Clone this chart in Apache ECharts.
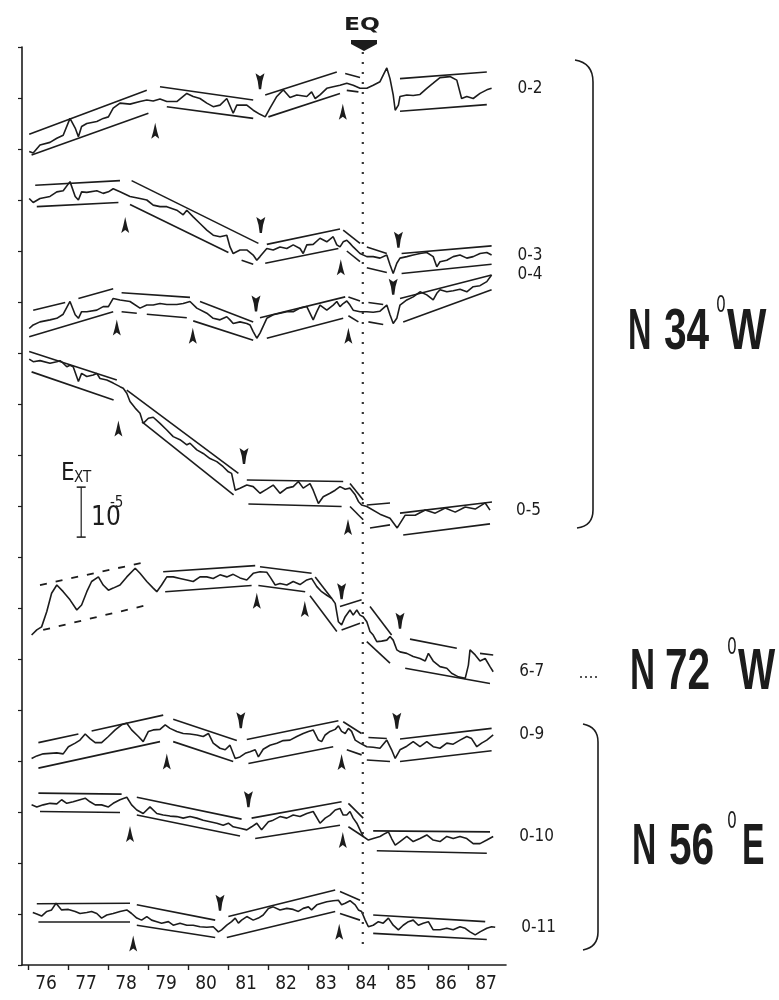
<!DOCTYPE html>
<html>
<head>
<meta charset="utf-8">
<script src="https://cdn.jsdelivr.net/npm/echarts@6/dist/echarts.min.js"></script>
<style>
html,body{margin:0;padding:0;background:#fff}
#main{width:779px;height:1000px}
</style>
</head>
<body>
<div id="main"></div>
<script>
// strain records, year vs. offset strain (unit = 10^-5)
var trace02 = [[76.03,15.95],[76.13,15.92],[76.30,16.08],[76.55,16.13],[76.72,16.21],[76.88,16.27],[77.05,16.60],[77.18,16.41],[77.26,16.24],[77.34,16.44],[77.47,16.50],[77.72,16.54],[77.88,16.60],[78.01,16.63],[78.13,16.80],[78.30,16.90],[78.55,16.88],[78.80,16.93],[78.97,16.96],[79.13,16.94],[79.30,16.98],[79.47,16.93],[79.72,16.93],[79.97,17.09],[80.13,17.03],[80.30,16.99],[80.47,16.90],[80.63,16.83],[80.80,16.86],[80.97,16.99],[81.13,16.70],[81.22,16.86],[81.47,16.86],[81.63,16.76],[81.80,16.68],[81.93,16.63],[82.05,16.80],[82.22,17.03],[82.38,17.16],[82.55,17.01],[82.72,17.06],[82.97,17.03],[83.09,17.12],[83.18,16.99],[83.30,17.06],[83.47,17.19],[83.63,17.22],[83.80,17.25],[83.97,17.29],[84.13,17.25],[84.30,17.19],[84.47,17.19],[84.63,17.25],[84.80,17.32],[84.88,17.45],[84.97,17.59],[85.05,17.38],[85.13,17.06],[85.18,16.76],[85.26,16.86],[85.30,17.03],[85.47,17.06],[85.63,17.05],[85.80,17.07],[85.97,17.19],[86.13,17.29],[86.30,17.40],[86.55,17.42],[86.72,17.35],[86.84,16.99],[86.97,17.03],[87.13,16.99],[87.30,17.09],[87.47,17.16],[87.59,17.19]];
var trace03 = [[76.03,15.03],[76.13,14.95],[76.30,15.03],[76.55,15.07],[76.72,15.16],[76.88,15.18],[77.05,15.36],[77.18,15.07],[77.26,15.00],[77.34,15.16],[77.47,15.15],[77.72,15.18],[77.88,15.13],[78.01,15.16],[78.13,15.22],[78.30,15.16],[78.55,15.07],[78.80,15.03],[78.97,15.00],[79.13,14.90],[79.30,14.87],[79.47,14.87],[79.72,14.80],[79.88,14.71],[79.97,14.80],[80.13,14.67],[80.30,14.54],[80.47,14.41],[80.63,14.31],[80.80,14.28],[80.97,14.31],[81.05,14.08],[81.13,13.95],[81.30,14.02],[81.47,14.02],[81.63,13.92],[81.72,13.82],[81.80,13.89],[81.97,14.05],[82.13,14.02],[82.30,14.08],[82.47,14.05],[82.63,14.12],[82.80,14.05],[82.88,13.95],[82.97,14.12],[83.13,14.13],[83.30,14.25],[83.47,14.18],[83.63,14.28],[83.72,14.12],[83.80,14.08],[83.88,14.18],[83.97,14.21],[84.05,14.15],[84.13,14.08],[84.30,13.95],[84.47,13.89],[84.63,13.89],[84.80,13.86],[84.97,13.92],[85.05,13.73],[85.13,13.56],[85.22,13.76],[85.30,13.86],[85.47,13.89],[85.63,13.92],[85.80,13.95],[85.97,13.97],[86.13,13.89],[86.22,13.69],[86.30,13.79],[86.47,13.82],[86.63,13.89],[86.80,13.92],[86.97,13.86],[87.13,13.89],[87.30,13.95],[87.47,13.97],[87.59,13.92]];
var trace04 = [[76.03,12.48],[76.13,12.55],[76.30,12.61],[76.55,12.65],[76.72,12.68],[76.88,12.76],[77.05,13.01],[77.18,12.75],[77.26,12.68],[77.34,12.81],[77.47,12.81],[77.72,12.84],[77.88,12.91],[78.01,12.91],[78.13,13.07],[78.30,13.04],[78.55,13.01],[78.80,12.88],[78.97,12.94],[79.13,12.94],[79.30,12.97],[79.47,12.95],[79.72,12.95],[79.88,12.97],[80.05,13.01],[80.22,12.88],[80.47,12.78],[80.63,12.68],[80.80,12.65],[80.97,12.71],[81.05,12.65],[81.13,12.58],[81.30,12.61],[81.47,12.58],[81.55,12.55],[81.63,12.42],[81.72,12.29],[81.80,12.39],[81.97,12.68],[82.13,12.75],[82.30,12.78],[82.47,12.81],[82.63,12.81],[82.80,12.88],[82.97,12.91],[83.13,12.65],[83.22,12.81],[83.30,12.94],[83.47,12.84],[83.63,12.94],[83.72,13.01],[83.80,12.91],[83.88,12.97],[83.97,13.02],[84.05,12.94],[84.13,12.84],[84.30,12.81],[84.47,12.81],[84.63,12.80],[84.80,12.82],[84.97,12.94],[85.05,12.75],[85.13,12.58],[85.22,12.68],[85.30,12.94],[85.47,13.04],[85.63,13.10],[85.80,13.20],[85.97,13.14],[86.13,13.04],[86.22,13.17],[86.30,13.24],[86.47,13.20],[86.63,13.22],[86.80,13.25],[86.97,13.20],[87.13,13.30],[87.30,13.32],[87.47,13.40],[87.59,13.53]];
var trace05 = [[76.03,11.88],[76.13,11.83],[76.30,11.85],[76.55,11.80],[76.72,11.83],[76.80,11.85],[76.88,11.80],[76.97,11.73],[77.05,11.76],[77.13,11.73],[77.26,11.44],[77.34,11.60],[77.47,11.54],[77.63,11.57],[77.72,11.60],[77.80,11.50],[77.97,11.47],[78.13,11.41],[78.30,11.34],[78.38,11.31],[78.47,11.21],[78.55,11.05],[78.68,10.92],[78.80,10.82],[78.88,10.62],[79.01,10.72],[79.13,10.74],[79.30,10.62],[79.47,10.49],[79.63,10.36],[79.80,10.30],[79.97,10.20],[80.05,10.23],[80.22,10.10],[80.38,10.03],[80.55,9.93],[80.72,9.87],[80.88,9.77],[81.01,9.67],[81.09,9.64],[81.18,9.31],[81.30,9.35],[81.47,9.41],[81.63,9.38],[81.80,9.25],[81.97,9.33],[82.13,9.41],[82.30,9.25],[82.47,9.35],[82.63,9.38],[82.76,9.48],[82.88,9.35],[83.05,9.44],[83.13,9.31],[83.26,9.05],[83.38,9.18],[83.55,9.25],[83.68,9.31],[83.80,9.38],[83.93,9.33],[84.05,9.35],[84.18,9.22],[84.26,9.09],[84.34,9.02],[84.47,8.99],[84.80,8.84],[85.05,8.76],[85.23,8.57],[85.43,8.82],[85.68,8.82],[85.93,8.92],[86.18,8.86],[86.43,8.96],[86.68,8.88],[86.93,8.98],[87.18,8.94],[87.43,9.06],[87.55,8.92]];
var trace67 = [[76.09,6.47],[76.22,6.57],[76.34,6.63],[76.47,6.93],[76.59,7.29],[76.72,7.45],[76.88,7.32],[77.05,7.16],[77.22,6.96],[77.34,7.06],[77.47,7.32],[77.59,7.52],[77.76,7.61],[77.88,7.45],[78.01,7.35],[78.13,7.39],[78.30,7.45],[78.47,7.61],[78.68,7.78],[78.80,7.68],[78.97,7.52],[79.13,7.39],[79.22,7.32],[79.34,7.45],[79.47,7.61],[79.63,7.61],[79.80,7.58],[79.97,7.55],[80.13,7.52],[80.30,7.61],[80.47,7.61],[80.63,7.58],[80.80,7.65],[80.97,7.61],[81.13,7.66],[81.30,7.59],[81.47,7.55],[81.63,7.68],[81.80,7.71],[81.97,7.70],[82.05,7.61],[82.18,7.45],[82.30,7.48],[82.47,7.45],[82.63,7.52],[82.80,7.46],[82.97,7.55],[83.09,7.58],[83.22,7.42],[83.34,7.32],[83.47,7.25],[83.59,7.19],[83.68,7.09],[83.76,6.73],[83.84,6.67],[83.93,6.83],[84.05,6.96],[84.13,6.86],[84.22,6.96],[84.30,6.86],[84.38,6.83],[84.47,6.73],[84.55,6.54],[84.63,6.47],[84.72,6.34],[84.84,6.35],[84.97,6.37],[85.05,6.44],[85.13,6.37],[85.22,6.18],[85.30,6.14],[85.47,6.11],[85.63,6.05],[85.80,6.01],[85.93,5.96],[86.01,6.11],[86.13,5.96],[86.30,5.85],[86.47,5.82],[86.59,5.72],[86.76,5.65],[86.93,5.62],[87.01,5.88],[87.05,6.18],[87.18,6.08],[87.30,5.96],[87.43,6.01],[87.55,5.85],[87.63,5.75]];
var trace09 = [[76.09,4.05],[76.22,4.10],[76.38,4.14],[76.55,4.15],[76.72,4.16],[76.88,4.14],[77.01,4.28],[77.18,4.35],[77.30,4.41],[77.43,4.53],[77.55,4.44],[77.68,4.36],[77.84,4.36],[78.01,4.48],[78.18,4.61],[78.34,4.71],[78.47,4.74],[78.59,4.61],[78.76,4.48],[78.88,4.38],[79.01,4.58],[79.13,4.61],[79.30,4.62],[79.43,4.71],[79.55,4.64],[79.72,4.58],[79.88,4.54],[80.05,4.53],[80.22,4.51],[80.38,4.48],[80.51,4.54],[80.63,4.35],[80.80,4.25],[80.93,4.22],[81.05,4.31],[81.18,4.05],[81.30,4.08],[81.43,4.15],[81.55,4.18],[81.68,4.22],[81.76,4.08],[81.88,4.23],[82.05,4.31],[82.22,4.35],[82.38,4.40],[82.55,4.41],[82.72,4.48],[82.88,4.54],[83.01,4.58],[83.13,4.61],[83.26,4.41],[83.34,4.38],[83.43,4.51],[83.55,4.58],[83.68,4.62],[83.76,4.69],[83.84,4.58],[83.93,4.54],[84.01,4.64],[84.09,4.58],[84.18,4.41],[84.30,4.35],[84.47,4.28],[84.63,4.27],[84.80,4.25],[84.97,4.41],[85.09,4.22],[85.18,4.05],[85.30,4.22],[85.47,4.29],[85.63,4.38],[85.80,4.28],[85.97,4.38],[86.13,4.28],[86.30,4.25],[86.47,4.35],[86.63,4.33],[86.80,4.41],[86.97,4.48],[87.09,4.44],[87.22,4.28],[87.34,4.35],[87.47,4.41],[87.63,4.51]];
var trace010 = [[76.09,3.14],[76.22,3.10],[76.38,3.14],[76.55,3.17],[76.72,3.16],[76.84,3.24],[76.97,3.17],[77.13,3.20],[77.30,3.24],[77.43,3.27],[77.55,3.20],[77.68,3.14],[77.84,3.14],[78.01,3.10],[78.13,3.17],[78.30,3.24],[78.47,3.29],[78.59,3.14],[78.72,3.04],[78.88,2.97],[79.05,3.10],[79.22,2.97],[79.38,2.94],[79.55,2.92],[79.72,2.91],[79.88,2.88],[80.05,2.91],[80.22,2.88],[80.38,2.84],[80.55,2.81],[80.72,2.78],[80.88,2.74],[81.01,2.78],[81.13,2.71],[81.30,2.68],[81.47,2.65],[81.59,2.71],[81.72,2.78],[81.84,2.65],[82.01,2.81],[82.13,2.84],[82.30,2.91],[82.47,2.88],[82.63,2.94],[82.80,2.91],[82.97,2.97],[83.13,3.01],[83.30,2.78],[83.43,2.88],[83.55,2.94],[83.68,3.04],[83.80,3.07],[83.88,2.94],[83.97,2.94],[84.05,3.01],[84.13,2.88],[84.22,2.78],[84.30,2.65],[84.38,2.52],[84.51,2.45],[84.63,2.48],[84.80,2.52],[84.93,2.58],[85.01,2.61],[85.09,2.48],[85.18,2.35],[85.30,2.42],[85.47,2.52],[85.63,2.42],[85.80,2.48],[85.97,2.55],[86.13,2.45],[86.30,2.42],[86.47,2.52],[86.63,2.48],[86.80,2.52],[86.97,2.48],[87.13,2.38],[87.30,2.38],[87.47,2.45],[87.63,2.52]];
var trace011 = [[76.12,1.03],[76.22,1.00],[76.34,0.96],[76.47,1.05],[76.59,1.08],[76.70,1.21],[76.84,1.08],[77.01,1.09],[77.18,1.05],[77.30,1.01],[77.47,1.03],[77.59,1.05],[77.72,1.01],[77.84,0.92],[77.97,0.98],[78.13,1.01],[78.30,1.05],[78.47,1.08],[78.59,1.01],[78.72,0.92],[78.84,0.88],[78.97,0.95],[79.09,0.88],[79.22,0.85],[79.34,0.82],[79.51,0.85],[79.63,0.78],[79.80,0.82],[79.97,0.78],[80.13,0.78],[80.30,0.75],[80.47,0.74],[80.63,0.75],[80.76,0.65],[80.84,0.69],[80.97,0.78],[81.09,0.85],[81.18,0.92],[81.26,0.82],[81.34,0.88],[81.47,0.95],[81.63,0.88],[81.76,0.92],[81.88,0.98],[82.01,1.11],[82.13,1.14],[82.30,1.08],[82.47,1.11],[82.63,1.09],[82.76,1.05],[82.88,1.11],[83.01,1.14],[83.09,1.08],[83.22,1.18],[83.34,1.21],[83.47,1.24],[83.63,1.26],[83.76,1.27],[83.84,1.18],[83.93,1.21],[84.05,1.26],[84.18,1.18],[84.26,1.08],[84.34,1.05],[84.43,0.88],[84.51,0.75],[84.63,0.78],[84.76,0.85],[84.88,0.82],[85.01,0.92],[85.13,0.78],[85.26,0.69],[85.38,0.78],[85.51,0.85],[85.63,0.88],[85.76,0.78],[85.88,0.82],[86.01,0.85],[86.13,0.69],[86.30,0.69],[86.47,0.72],[86.63,0.69],[86.80,0.75],[86.93,0.72],[87.05,0.65],[87.18,0.59],[87.30,0.65],[87.47,0.72],[87.59,0.75],[87.68,0.74]];

// trend lines fitted to each record (segment end points)
var trends = [
  [[76.03,16.29],[78.97,17.15]],[[79.30,17.22],[81.63,16.96]],[[81.93,17.06],[83.72,17.51]],[[83.93,17.48],[84.30,17.40]],[[85.30,17.38],[87.47,17.51]],
  [[76.09,15.88],[79.01,16.70]],[[79.47,16.83],[81.63,16.60]],[[82.01,16.63],[83.80,17.09]],[[83.97,17.15],[84.26,17.12]],[[85.30,16.74],[87.47,16.87]],
  [[76.18,15.29],[78.30,15.38]],[[78.59,15.38],[81.76,14.15]],[[81.97,14.13],[83.80,14.43]],[[83.88,14.41],[84.30,14.15]],[[84.47,14.08],[84.97,13.95]],[[85.34,13.95],[87.59,14.10]],
  [[76.22,14.87],[78.26,14.95]],[[78.55,14.91],[81.01,13.97]],[[81.34,13.82],[81.63,13.74]],[[81.93,13.76],[83.76,14.05]],[[83.97,14.00],[84.30,13.79]],[[84.47,13.67],[84.97,13.58]],[[85.34,13.56],[87.59,13.74]],
  [[76.13,12.84],[76.93,12.99]],[[77.26,13.07],[78.13,13.26]],[[78.34,13.18],[80.05,13.09]],[[80.30,13.01],[81.63,12.61]],[[81.80,12.69],[83.93,13.10]],[[84.01,13.10],[84.30,13.02]],[[84.51,12.99],[84.88,12.95]],[[85.30,13.07],[87.59,13.53]],
  [[76.03,12.32],[78.13,12.81]],[[78.34,12.81],[78.72,12.78]],[[78.97,12.76],[79.97,12.69]],[[80.13,12.63],[81.63,12.25]],[[81.97,12.29],[83.88,12.68]],[[84.01,12.73],[84.26,12.61]],[[84.51,12.61],[84.88,12.56]],[[85.38,12.61],[87.59,13.24]],
  [[76.03,12.03],[78.22,11.47]],[[78.47,11.27],[81.26,9.64]],[[81.47,9.51],[83.88,9.48]],[[84.05,9.44],[84.38,9.12]],[[84.47,9.02],[85.05,9.06]],[[85.30,8.86],[87.60,9.08]],
  [[76.09,11.63],[78.14,11.08]],[[78.85,10.65],[81.14,9.22]],[[81.51,9.04],[83.84,8.99]],[[84.05,8.99],[84.38,8.73]],[[84.55,8.57],[85.05,8.63]],[[85.38,8.43],[87.55,8.65]],
  [[79.38,7.71],[81.68,7.83]],[[81.80,7.81],[83.09,7.68]],[[83.18,7.61],[83.59,7.19]],[[83.80,7.03],[84.34,7.16]],[[84.55,7.03],[85.09,6.47]],[[85.55,6.39],[86.72,6.21]],[[87.30,6.11],[87.63,6.08]],
  [[79.43,7.32],[81.59,7.44]],[[81.76,7.44],[82.93,7.32]],[[83.05,7.24],[83.72,6.54]],[[83.84,6.57],[84.30,6.70]],[[84.47,6.34],[85.05,5.92]],[[85.43,5.82],[87.55,5.52]],
  [[76.26,4.36],[77.26,4.53]],[[77.59,4.59],[79.38,4.90]],[[79.63,4.82],[81.22,4.40]],[[81.47,4.42],[83.76,4.79]],[[83.88,4.77],[84.34,4.54]],[[84.51,4.46],[84.97,4.44]],[[85.30,4.43],[87.59,4.64]],
  [[76.26,3.86],[79.30,4.38]],[[79.63,4.38],[81.13,3.99]],[[81.51,3.95],[83.63,4.28]],[[83.97,4.22],[84.34,4.12]],[[84.47,4.02],[85.05,3.99]],[[85.30,3.99],[87.59,4.20]],
  [[76.26,3.37],[78.34,3.35]],[[78.72,3.29],[81.34,2.86]],[[81.59,2.88],[83.84,3.20]],[[84.01,3.17],[84.38,2.88]],[[84.63,2.63],[87.55,2.61]],
  [[76.30,3.01],[78.30,2.99]],[[78.72,2.94],[81.30,2.53]],[[81.68,2.48],[83.80,2.74]],[[84.01,2.71],[84.38,2.52]],[[84.72,2.24],[87.47,2.19]],
  [[76.22,1.20],[78.55,1.21]],[[78.72,1.18],[80.68,0.88]],[[81.01,0.95],[83.68,1.47]],[[83.80,1.44],[84.30,1.27]],[[84.63,0.98],[87.43,0.85]],
  [[76.26,0.85],[78.55,0.85]],[[78.72,0.78],[80.68,0.54]],[[80.97,0.54],[83.68,1.05]],[[83.80,1.01],[84.30,0.88]],[[84.63,0.62],[87.47,0.50]]
];
var trendsDashed = [[[76.30,7.45],[78.93,7.90]],[[76.38,6.57],[78.93,7.05]]];

// turning points of the trend
var arrowsUp = [[79.18,16.36],[83.87,16.73],[78.43,14.51],[83.82,13.68],[78.22,12.50],[80.12,12.34],[84.01,12.34],[78.26,10.52],[84.00,8.59],[81.72,7.14],[82.92,6.98],[79.47,3.99],[83.84,3.98],[78.55,2.57],[83.87,2.45],[78.63,0.42],[83.78,0.65]];
var arrowsDown = [[81.80,17.33],[81.82,14.51],[85.26,14.22],[81.70,12.97],[85.13,13.30],[81.40,9.98],[83.84,7.33],[85.30,6.75],[81.32,4.80],[85.22,4.79],[81.51,3.25],[80.80,1.22]];

var eqYear = 84.37;
var yearTicks = [76,77,78,79,80,81,82,83,84,85,86,87,88];
var yearLabels = [76.45,77.45,78.45,79.45,80.45,81.45,82.45,83.45,84.45,85.45,86.45,87.45];
var scaleBar = [[77.33,9.37],[77.33,8.39]];

var records = [
  {name:'0-2', data:trace02},
  {name:'0-3', data:trace03},
  {name:'0-4', data:trace04},
  {name:'0-5', data:trace05},
  {name:'6-7', data:trace67},
  {name:'0-9', data:trace09},
  {name:'0-10', data:trace010},
  {name:'0-11', data:trace011}
];

var INK = '#1c1c1c';
var NARROW = "'DejaVu Sans Condensed','Liberation Sans Narrow',sans-serif";
var BIG = "bold 58px 'Liberation Sans','DejaVu Sans',sans-serif";

var myChart = echarts.init(document.getElementById('main'));

var series = records.map(function(r){
  return {
    name: r.name,
    type: 'line',
    data: r.data,
    showSymbol: false,
    symbol: 'none',
    lineStyle: {color: INK, width: 1.6},
    endLabel: {
      show: true,
      formatter: '{a}',
      distance: 26,
      color: INK,
      fontSize: 17,
      fontFamily: NARROW
    }
  };
});

series.push({
  type: 'lines',
  coordinateSystem: 'cartesian2d',
  data: trends.map(function(s){ return {coords: s}; }),
  lineStyle: {color: INK, width: 1.6, opacity: 1}
});
series.push({
  type: 'lines',
  coordinateSystem: 'cartesian2d',
  data: trendsDashed.map(function(s){ return {coords: s}; }),
  lineStyle: {color: INK, width: 1.8, type: [7, 9], opacity: 1}
});
series.push({
  type: 'scatter',
  data: arrowsUp,
  symbol: 'path://M4,0 L6,9 L8,16 L4,13 L0,16 L2,9 Z',
  symbolSize: [8, 16],
  itemStyle: {color: INK, opacity: 1}
});
series.push({
  type: 'scatter',
  data: arrowsDown,
  symbol: 'path://M0,0 L4,3 L8,0 L6,8 L5,16 L3,16 L2,8 Z',
  symbolSize: [9, 16],
  itemStyle: {color: INK, opacity: 1}
});
series.push({
  type: 'line',
  data: [[eqYear, 17.9], [eqYear, 0.3]],
  showSymbol: false,
  symbol: 'none',
  lineStyle: {color: '#333', width: 2.2, type: [2, 8]}
});
series.push({
  type: 'line',
  data: scaleBar,
  symbol: 'rect',
  symbolSize: [9, 1.5],
  lineStyle: {color: INK, width: 1.2},
  itemStyle: {color: INK}
});

function txt(x, y, s, font, sx) {
  return {type: 'text', x: x, y: y, scaleX: sx || 1, style: {text: s, font: font, fill: INK, verticalAlign: 'middle'}};
}

var option = {
  animation: false,
  backgroundColor: '#fff',
  grid: {left: 22, right: 273, top: 47, bottom: 35},
  xAxis: {
    type: 'value',
    min: 75.85,
    max: 87.95,
    splitLine: {show: false},
    axisLine: {lineStyle: {color: INK, width: 1.6}},
    axisTick: {customValues: yearTicks, length: 5, lineStyle: {color: INK, width: 1.4}},
    axisLabel: {
      customValues: yearLabels,
      formatter: function(v){ return String(Math.floor(v)); },
      color: INK,
      fontSize: 19,
      fontFamily: NARROW,
      margin: 10
    }
  },
  yAxis: {
    type: 'value',
    min: 0,
    max: 18,
    interval: 1,
    splitLine: {show: false},
    axisLine: {show: true, lineStyle: {color: INK, width: 1.6}},
    axisTick: {show: true, length: 4, lineStyle: {color: INK, width: 1.2}},
    axisLabel: {show: false}
  },
  series: series,
  graphic: [
    {type: 'text', x: 362, y: 25, scaleX: 1.3, style: {text: 'EQ', font: 'bold 18px "DejaVu Sans"', fill: INK, align: 'center', verticalAlign: 'middle'}},
    {type: 'polygon', shape: {points: [[351,40],[377,40],[377,44],[364,51],[351,44]]}, style: {fill: INK}},
    txt(61, 474, 'E', '24px ' + NARROW),
    txt(74, 478, 'XT', '15px ' + NARROW),
    txt(91, 518, '10', '26px ' + NARROW),
    txt(110, 503, '-5', '15px ' + NARROW),
    // braces
    {type: 'bezierCurve', shape: {x1: 575, y1: 60, x2: 593, y2: 82, cpx1: 593, cpy1: 63}, style: {fill: 'none', stroke: INK, lineWidth: 1.6}},
    {type: 'line', shape: {x1: 593, y1: 82, x2: 593, y2: 510}, style: {stroke: INK, lineWidth: 1.6}},
    {type: 'bezierCurve', shape: {x1: 593, y1: 510, x2: 577, y2: 528, cpx1: 593, cpy1: 526}, style: {fill: 'none', stroke: INK, lineWidth: 1.6}},
    {type: 'bezierCurve', shape: {x1: 583, y1: 724, x2: 598, y2: 742, cpx1: 598, cpy1: 727}, style: {fill: 'none', stroke: INK, lineWidth: 1.6}},
    {type: 'line', shape: {x1: 598, y1: 742, x2: 598, y2: 932}, style: {stroke: INK, lineWidth: 1.6}},
    {type: 'bezierCurve', shape: {x1: 598, y1: 932, x2: 583, y2: 950, cpx1: 598, cpy1: 947}, style: {fill: 'none', stroke: INK, lineWidth: 1.6}},
    {type: 'line', shape: {x1: 580, y1: 677, x2: 598, y2: 677}, style: {stroke: INK, lineWidth: 1.6, lineDash: [2, 3]}},
    // orientation labels
    txt(628, 333, 'N', BIG, 0.56),
    txt(664, 333, '34', BIG, 0.7),
    txt(716, 306, '0', '23px ' + NARROW, 0.75),
    txt(727, 333, 'W', BIG, 0.72),
    txt(630, 673, 'N', BIG, 0.6),
    txt(665, 673, '72', BIG, 0.7),
    txt(727, 648, '0', '23px ' + NARROW, 0.75),
    txt(738, 673, 'W', BIG, 0.68),
    txt(632, 848, 'N', BIG, 0.58),
    txt(669, 848, '56', BIG, 0.7),
    txt(727, 822, '0', '23px ' + NARROW, 0.75),
    txt(742, 848, 'E', BIG, 0.58)
  ]
};

myChart.setOption(option);
</script>
</body>
</html>
